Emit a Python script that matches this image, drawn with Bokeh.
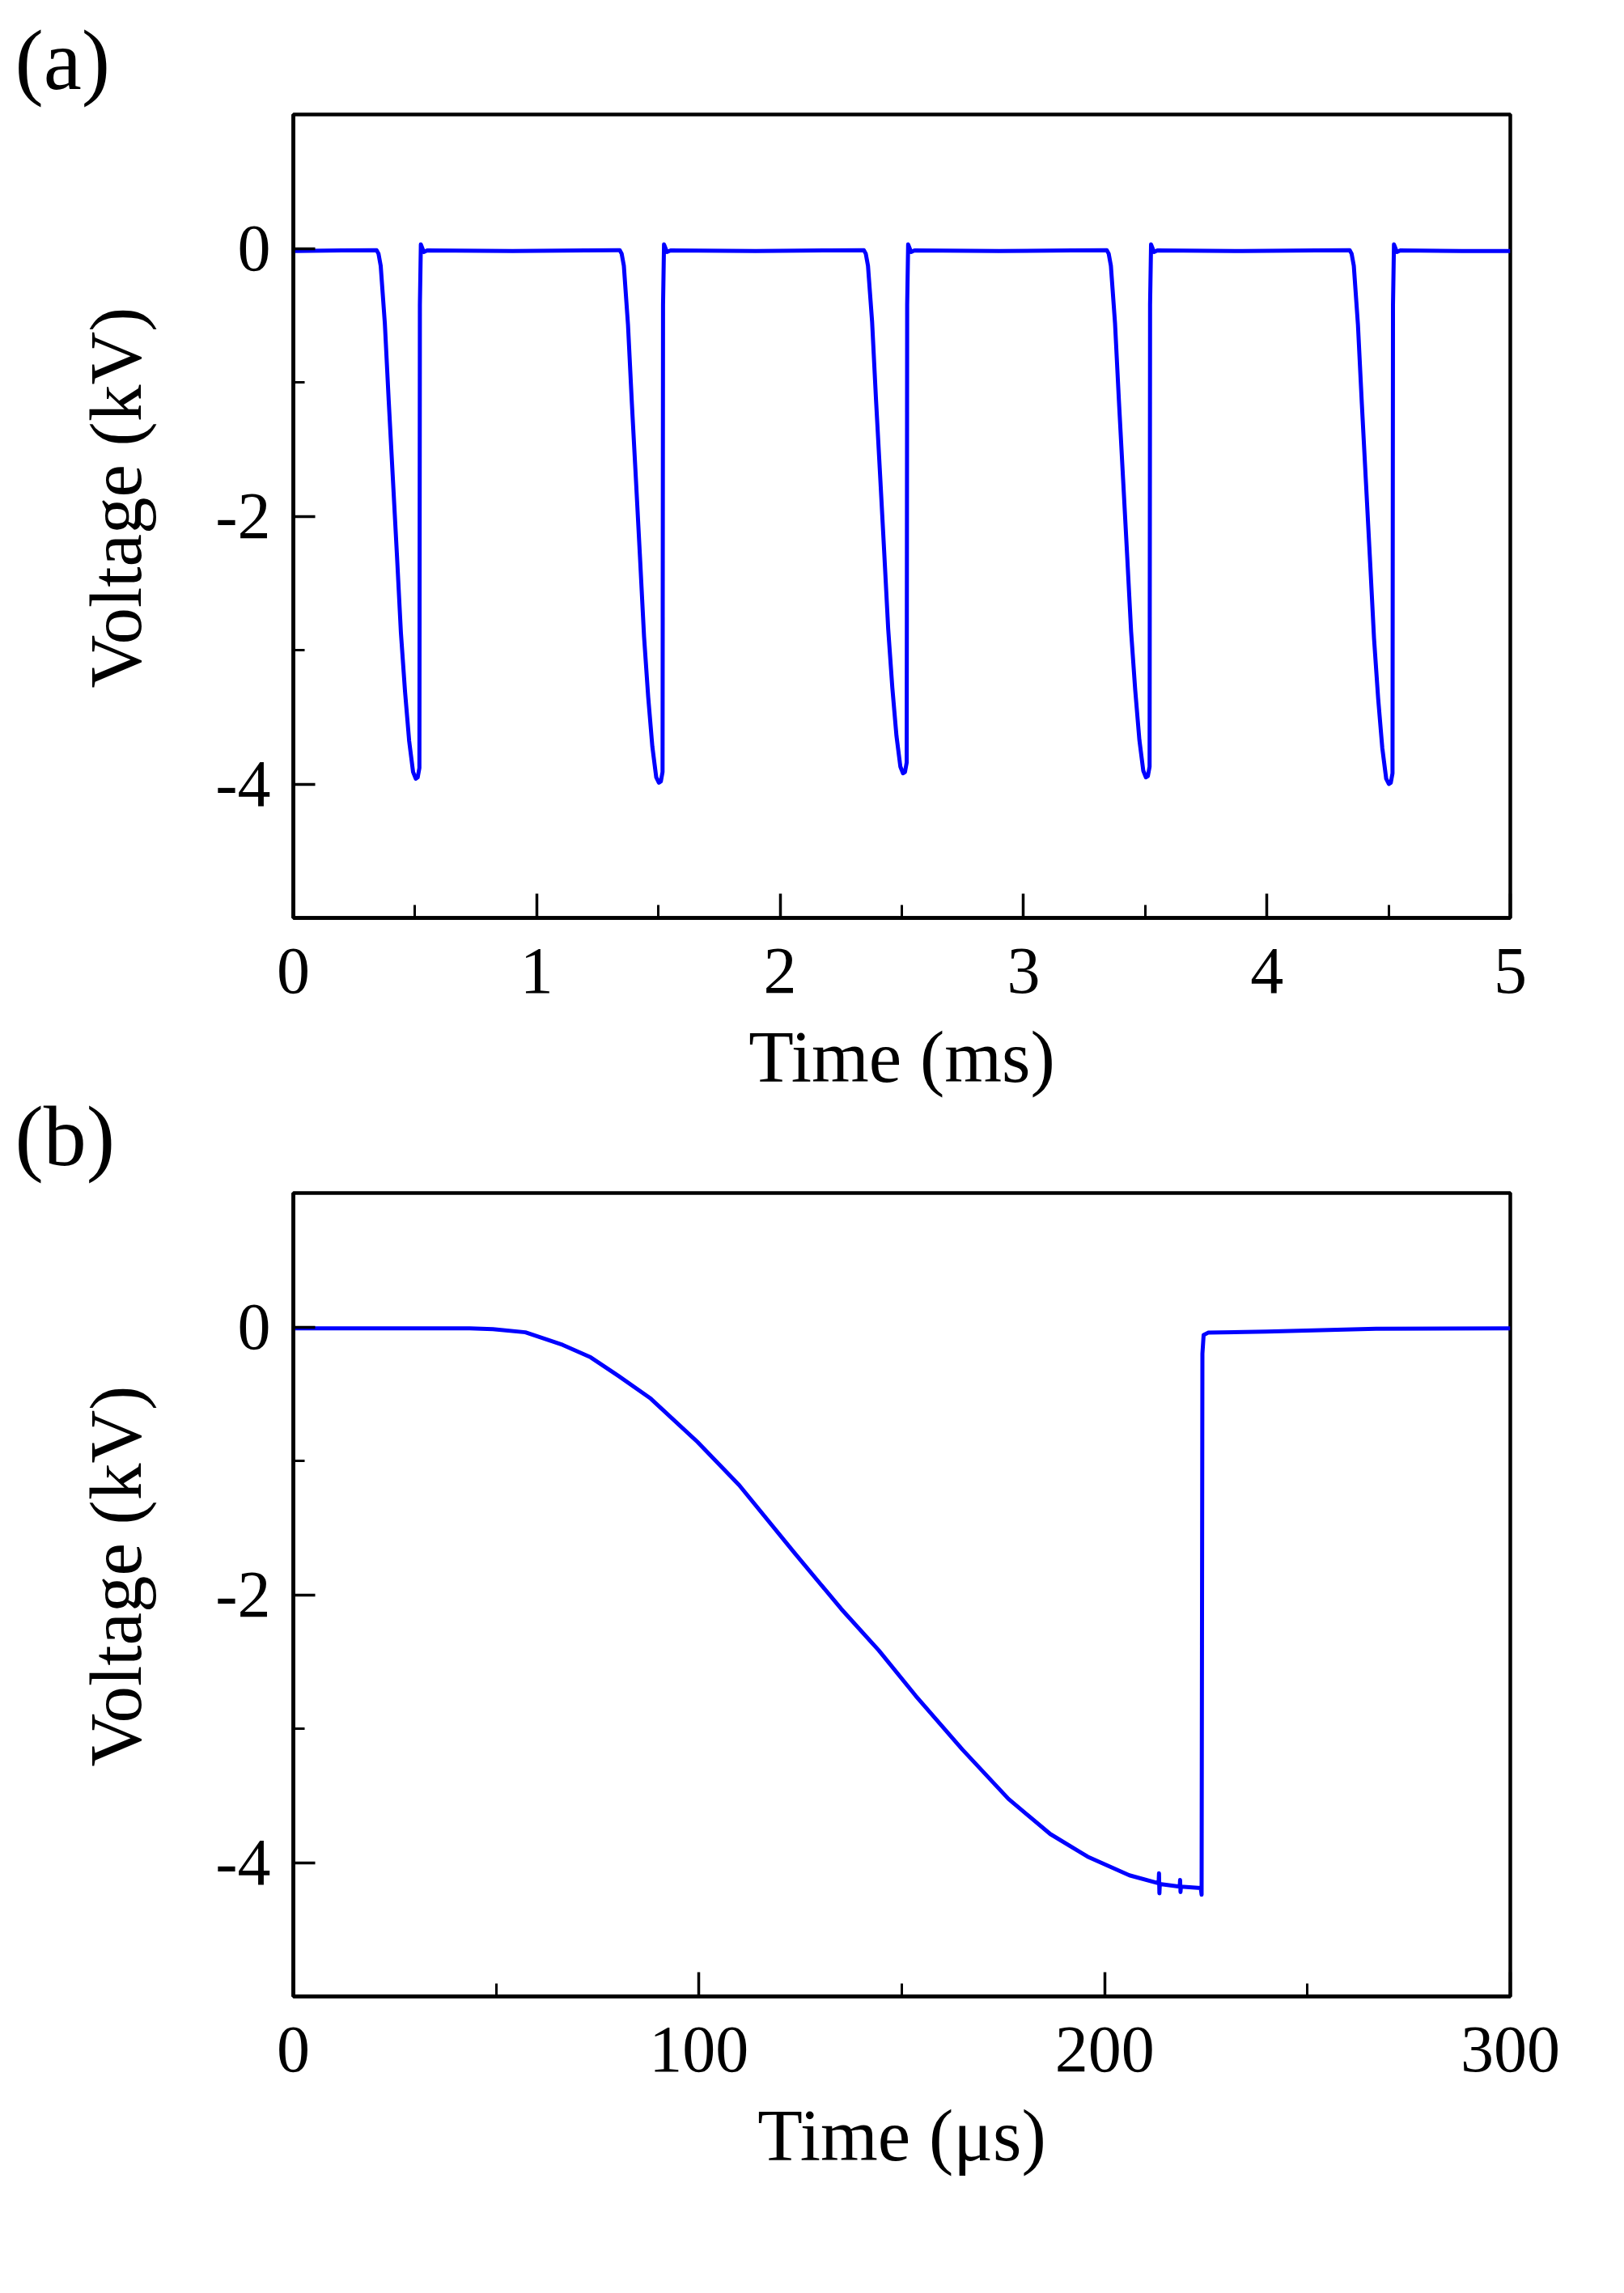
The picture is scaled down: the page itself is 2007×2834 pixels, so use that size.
from bokeh.plotting import figure
from bokeh.layouts import column
from bokeh.models import Range1d, SingleIntervalTicker, PrintfTickFormatter, Title
from bokeh.embed import file_html
from bokeh.resources import INLINE

# ---------------- data : panel (a), time in ms, voltage in kV ----------------
t_a = [
    0.00, 0.20, 0.342, 0.350, 0.359, 0.376, 0.392, 0.409, 0.426, 0.442, 0.459, 0.476, 0.492, 0.503, 0.511, 0.518, 0.520, 0.524, 0.536, 0.55,
    0.90, 1.20, 1.341, 1.349, 1.358, 1.375, 1.391, 1.408, 1.425, 1.441, 1.458, 1.475, 1.491, 1.502, 1.510, 1.517, 1.519, 1.523, 1.535, 1.55,
    1.90, 2.20, 2.344, 2.352, 2.361, 2.378, 2.394, 2.411, 2.428, 2.444, 2.461, 2.478, 2.494, 2.505, 2.513, 2.520, 2.522, 2.526, 2.538, 2.552,
    2.90, 3.20, 3.342, 3.350, 3.359, 3.376, 3.392, 3.409, 3.426, 3.442, 3.459, 3.476, 3.492, 3.503, 3.511, 3.518, 3.520, 3.524, 3.536, 3.55,
    3.90, 4.20, 4.340, 4.348, 4.357, 4.374, 4.390, 4.407, 4.424, 4.440, 4.457, 4.474, 4.490, 4.501, 4.509, 4.516, 4.518, 4.522, 4.534, 4.548,
    4.80, 5.00,
]
v_a = [
    -0.02, -0.015, -0.013, -0.04, -0.13, -0.56, -1.14, -1.72, -2.30, -2.87, -3.31, -3.68, -3.91, -3.96, -3.95, -3.88, -0.42, 0.03, -0.027, -0.015,
    -0.02, -0.015, -0.013, -0.04, -0.13, -0.57, -1.16, -1.74, -2.33, -2.90, -3.35, -3.72, -3.95, -3.99, -3.98, -3.91, -0.42, 0.03, -0.027, -0.015,
    -0.02, -0.015, -0.013, -0.04, -0.13, -0.55, -1.13, -1.70, -2.28, -2.84, -3.28, -3.64, -3.87, -3.92, -3.91, -3.84, -0.42, 0.03, -0.027, -0.015,
    -0.02, -0.015, -0.013, -0.04, -0.13, -0.56, -1.14, -1.72, -2.30, -2.86, -3.30, -3.67, -3.90, -3.95, -3.94, -3.87, -0.42, 0.03, -0.027, -0.015,
    -0.02, -0.015, -0.013, -0.04, -0.13, -0.57, -1.16, -1.75, -2.34, -2.91, -3.36, -3.73, -3.96, -4.00, -3.99, -3.92, -0.42, 0.03, -0.027, -0.015,
    -0.02, -0.02,
]

# ---------------- data : panel (b), time in microseconds, voltage in kV ----------------
t_b = [0, 20, 43.5, 49.2, 57.2, 66.4, 73.3, 80.1, 88.1, 99.6, 109.9, 123.6, 135.1, 144.3,
       153.4, 164.9, 176.3, 186.6, 195.8, 206.1, 213.3, 213.4, 213.5, 213.6, 218.5, 218.6,
       218.7, 218.8, 223.7, 223.9, 224.1, 224.4, 225.5, 240, 266.9, 300]
v_b = [-0.01, -0.01, -0.01, -0.016, -0.04, -0.134, -0.227, -0.365, -0.535, -0.858, -1.181,
       -1.69, -2.107, -2.415, -2.754, -3.155, -3.525, -3.787, -3.956, -4.095, -4.155, -4.08,
       -4.23, -4.16, -4.18, -4.13, -4.22, -4.18, -4.19, -4.24, -0.2, -0.06, -0.043, -0.035,
       -0.013, -0.01]

panel_tags = ["(a)", "(b)"]
x_label_a = "Time (ms)"
x_label_b = "Time (\u03bcs)"
y_label = "Voltage (kV)"

FONT = "Liberation Serif"
BLUE = "#0000ff"


def tag_title(tag, standoff):
    return Title(text=tag, align="left", offset=-344, standoff=standoff,
                 text_font=FONT, text_font_size="106px", text_font_style="normal",
                 text_color="black")


def make_fig(xr, xint, xlabel, top, bottom):
    p = figure(frame_width=1504, frame_height=993,
               min_border_left=362, min_border_right=141,
               min_border_top=top, min_border_bottom=bottom,
               x_range=Range1d(*xr), y_range=Range1d(-5, 1),
               output_backend="svg", toolbar_location=None,
               background_fill_color="white", border_fill_color="white")
    p.xgrid.grid_line_color = None
    p.ygrid.grid_line_color = None
    p.outline_line_color = "black"
    p.outline_line_width = 4.5
    p.outline_line_alpha = 1.0

    p.xaxis.ticker = SingleIntervalTicker(interval=xint, num_minor_ticks=2)
    p.yaxis.ticker = SingleIntervalTicker(interval=2, num_minor_ticks=2)
    p.xaxis.formatter = PrintfTickFormatter(format="%d")
    p.yaxis.formatter = PrintfTickFormatter(format="%d")

    for ax in (p.xaxis, p.yaxis):
        ax.axis_line_color = "black"
        ax.axis_line_width = 4.5
        ax.major_tick_out = 0
        ax.minor_tick_out = 0
        ax.major_tick_line_color = "black"
        ax.minor_tick_line_color = "black"
        ax.major_tick_line_width = 3.5
        ax.minor_tick_line_width = 3
        ax.major_label_text_font = FONT
        ax.major_label_text_font_size = "82px"
        ax.major_label_text_color = "black"
        ax.axis_label_text_font = FONT
        ax.axis_label_text_font_size = "91px"
        ax.axis_label_text_font_style = "normal"
        ax.axis_label_text_color = "black"

    p.xaxis.major_tick_in = 30
    p.xaxis.minor_tick_in = 16
    p.yaxis.major_tick_in = 27
    p.yaxis.minor_tick_in = 14
    p.xaxis.major_label_standoff = 38
    p.yaxis.major_label_standoff = 28
    p.xaxis.axis_label_standoff = 26
    p.xaxis.axis_label = xlabel
    # the voltage label sits a little above the frame centre, as in the original
    p.add_layout(Title(text=y_label, align="left", offset=284, standoff=140,
                       vertical_align="bottom", text_font=FONT, text_font_size="91px",
                       text_font_style="normal", text_color="black"), "left")
    return p


pa = make_fig((0, 5), 1, x_label_a, 141, 330)
pa.title = tag_title(panel_tags[0], 18)
# the "(b)" tag sits in the gap between the two panels, below the time axis of (a)
pa.add_layout(tag_title(panel_tags[1], -32), "below")
pa.line(t_a, v_a, line_color=BLUE, line_width=5, line_join="round")

pb = make_fig((0, 300), 100, x_label_b, 10, 367)
pb.line(t_b, v_b, line_color=BLUE, line_width=5, line_join="round")

layout = column(pa, pb, spacing=0)
open("out.html", "w").write(file_html(layout, INLINE))
